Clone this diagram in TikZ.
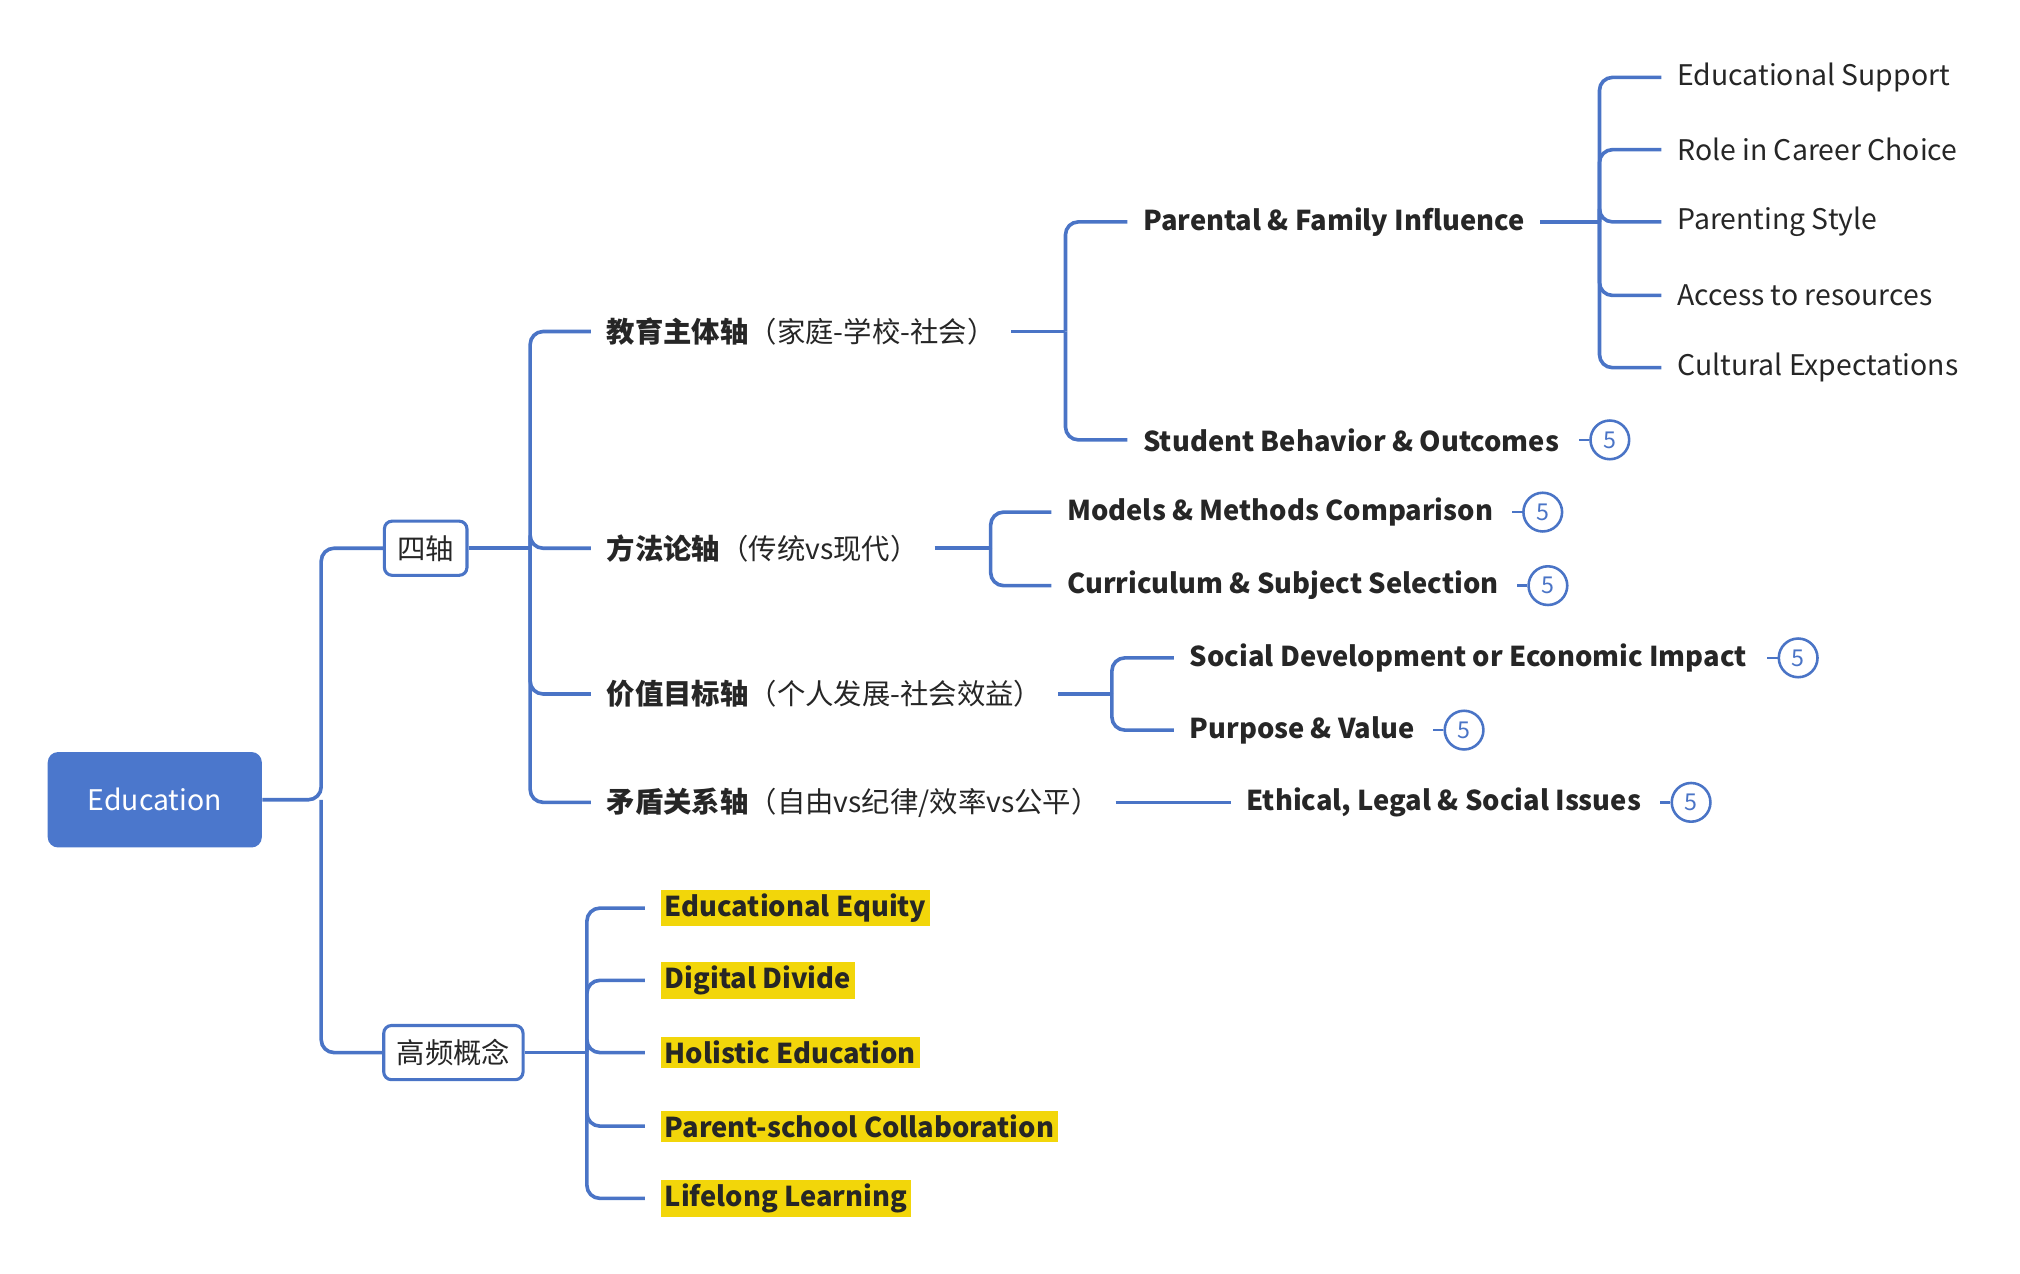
\documentclass[tikz,border=0pt]{standalone}
\usepackage{fontspec}
\setmainfont{Noto Sans CJK SC}
\usetikzlibrary{positioning}
\definecolor{lineblue}{HTML}{4A74C6}
\definecolor{rootblue}{HTML}{4B77CC}
\definecolor{hlyellow}{HTML}{F2D60A}
\definecolor{txt}{HTML}{262626}
\newcommand\boldlat{\fontsize{10.6}{13}\selectfont\bfseries}
\tikzset{
	link/.style={draw=lineblue, line width=1.4pt, rounded corners=5pt},
	topic/.style={anchor=west, inner xsep=6pt, text=txt},
	leaf/.style={anchor=west, inner xsep=6pt, text=txt},
	hl/.style={anchor=west, fill=hlyellow, inner sep=1.5pt, text=txt, font=\boldlat},
	badge/.style={circle, draw=lineblue, line width=1pt, text=lineblue, minimum size=15pt, inner sep=0pt, font=\small},
	axisbox/.style={draw=lineblue, line width=1.2pt, rounded corners=3pt, fill=white, minimum height=21pt, inner xsep=5pt, text=txt}
}
\begin{document}
\begin{tikzpicture}[x=0.5pt, y=-0.5pt, font=\fontsize{11}{13}\selectfont]
\useasboundingbox (0,0) rectangle (1566,987);

% root and first level
\node[fill=rootblue, text=white, rounded corners=4pt, minimum width=83pt, minimum height=37pt] (edu) at (120,620) {Education};
\node[axisbox] (axes) at (330,425) {四轴};
\node[axisbox] (hot) at (351.5,816) {高频概念};
\draw[link] (edu.east) -- (249,620) |- (axes.west);
\draw[link] (249,620) |- (hot.west);

% four axes
\node[topic] (ax1) at (458,257) {\textbf{教育主体轴}（家庭-学校-社会）};
\node[topic] (ax2) at (458,425) {\textbf{方法论轴}（传统vs现代）};
\node[topic] (ax3) at (458,538) {\textbf{价值目标轴}（个人发展-社会效益）};
\node[topic] (ax4) at (458,622) {\textbf{矛盾关系轴}（自由vs纪律/效率vs公平）};
\draw[link] (axes.east) -- (411,425);
\foreach \n in {ax1,ax2,ax3,ax4}
	\draw[link] (411,425) |- (\n.west);

% subject axis
\node[topic, font=\boldlat] (fam) at (874,172) {Parental \& Family Influence};
\node[topic, font=\boldlat] (stu) at (874,341) {Student Behavior \& Outcomes};
\draw[link] (ax1.east) -- (826,257);
\draw[link] (826,257) |- (fam.west);
\draw[link] (826,257) |- (stu.west);

% family leaves
\foreach \t/\y [count=\i] in {Educational Support/60, Role in Career Choice/116, Parenting Style/172, Access to resources/229, Cultural Expectations/285}
	\node[leaf] (f\i) at (1288,\y) {\t};
\draw[link] (fam.east) -- (1240,172);
\foreach \i in {1,...,5}
	\draw[link] (1240,172) |- (f\i.west);

% method axis
\node[topic, font=\boldlat] (mod) at (815,397) {Models \& Methods Comparison};
\node[topic, font=\boldlat] (cur) at (815,454) {Curriculum \& Subject Selection};
\draw[link] (ax2.east) -- (768,425);
\draw[link] (768,425) |- (mod.west);
\draw[link] (768,425) |- (cur.west);

% value axis
\node[topic, font=\boldlat] (soc) at (910,510) {Social Development or Economic Impact};
\node[topic, font=\boldlat] (pur) at (910,566) {Purpose \& Value};
\draw[link] (ax3.east) -- (862,538);
\draw[link] (862,538) |- (soc.west);
\draw[link] (862,538) |- (pur.west);

% conflict axis
\node[topic, font=\boldlat] (eth) at (954,622) {Ethical, Legal \& Social Issues};
\draw[link] (ax4.east) -- (eth.west);

% badges
\foreach \n/\x in {stu/1248, mod/1196, cur/1200, soc/1394, pur/1135, eth/1311}{
	\node[badge] (b\n) at ({\x,0} |- \n.center) {5};
	\draw[lineblue, line width=1pt] (b\n.west) -- ++(-8,0);
}

% high frequency concepts
\foreach \t/\y [count=\i] in {Educational Equity/704, Digital Divide/760, Holistic Education/816, Parent-school Collaboration/873, Lifelong Learning/929}
	\node[hl] (h\i) at (512,\y) {\t};
\draw[link] (hot.east) -- (455,816);
\foreach \i in {1,...,5}
	\draw[link] (455,816) |- ([xshift=-6pt]h\i.west);

\end{tikzpicture}
\end{document}
